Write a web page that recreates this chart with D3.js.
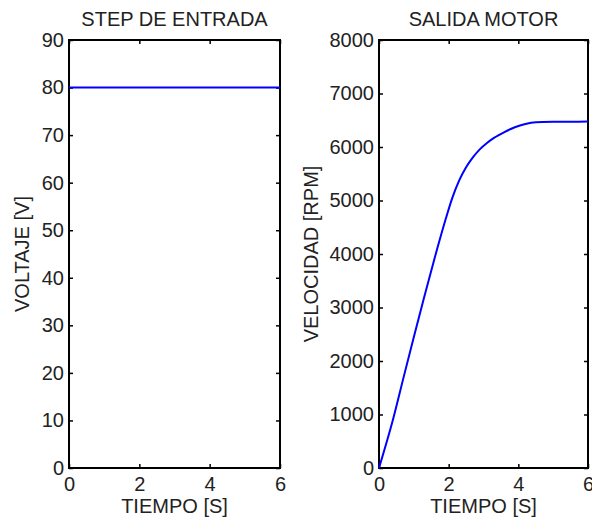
<!DOCTYPE html>
<html>
<head>
<meta charset="utf-8">
<script src="https://cdn.jsdelivr.net/npm/d3@7"></script>
<style>
  body { margin: 0; background: #fff; }
  text { font-family: "Liberation Sans", Arial, sans-serif; }
</style>
</head>
<body>
<div id="chart"></div>
<script>
// data
const stepTime = [0, 6];
const stepVolt = [80, 80];

const motorTime = [0, 0.4, 0.7, 1.0, 1.3, 1.6, 1.9, 2.1, 2.3, 2.5, 2.7, 2.9, 3.1, 3.3, 3.6, 3.9, 4.2, 4.5, 5.0, 5.5, 6.0];
const motorRpm  = [0, 900, 1680, 2450, 3200, 3930, 4620, 5040, 5370, 5620, 5810, 5960, 6075, 6170, 6280, 6370, 6430, 6462, 6470, 6472, 6475];

const timeTicks = [0, 2, 4, 6];
const voltTicks = d3.range(0, 91, 10);
const rpmTicks = d3.range(0, 8001, 1000);

const width = 592, height = 521;
const plotTop = 40, plotBottom = 468;
const fontSize = 20;

const svg = d3.select("#chart").append("svg")
  .attr("width", width)
  .attr("height", height);

// draws one subplot (box, inward ticks on all sides, line)
function panel(opts) {
  const x = d3.scaleLinear().domain([0, 6]).range([opts.left, opts.right]);
  const y = d3.scaleLinear().domain(opts.yDomain).range([plotBottom, plotTop]);
  const g = svg.append("g");

  const styleAxis = sel => {
    sel.select(".domain").remove();
    sel.selectAll(".tick line").attr("stroke", "#000").attr("stroke-width", 1.5);
    sel.selectAll("text").attr("font-size", fontSize).attr("fill", "#222")
      .attr("font-family", "'Liberation Sans', Arial, sans-serif");
  };

  g.append("g").attr("transform", `translate(0,${plotBottom})`)
    .call(d3.axisBottom(x).tickValues(timeTicks).tickSize(-4).tickPadding(9).tickFormat(d3.format("d")))
    .call(styleAxis);
  g.append("g").attr("transform", `translate(0,${plotTop})`)
    .call(d3.axisTop(x).tickValues(timeTicks).tickSize(-4).tickFormat(""))
    .call(styleAxis);
  g.append("g").attr("transform", `translate(${opts.left},0)`)
    .call(d3.axisLeft(y).tickValues(opts.yTicks).tickSize(-4).tickPadding(5).tickFormat(d3.format("d")))
    .call(styleAxis);
  g.append("g").attr("transform", `translate(${opts.right},0)`)
    .call(d3.axisRight(y).tickValues(opts.yTicks).tickSize(-4).tickFormat(""))
    .call(styleAxis);

  g.append("rect")
    .attr("x", opts.left).attr("y", plotTop)
    .attr("width", opts.right - opts.left).attr("height", plotBottom - plotTop)
    .attr("fill", "none").attr("stroke", "#000").attr("stroke-width", 2);

  const line = d3.line()
    .x((d, i) => x(opts.xs[i]))
    .y(d => y(d))
    .curve(d3.curveMonotoneX);

  g.append("path")
    .datum(opts.ys)
    .attr("d", line)
    .attr("fill", "none")
    .attr("stroke", "#0000ff")
    .attr("stroke-width", 2);

  // title
  g.append("text")
    .attr("x", (opts.left + opts.right) / 2).attr("y", 26)
    .attr("text-anchor", "middle").attr("font-size", fontSize).attr("fill", "#222")
    .text(opts.title);

  // x label
  g.append("text")
    .attr("x", (opts.left + opts.right) / 2).attr("y", 513)
    .attr("text-anchor", "middle").attr("font-size", fontSize).attr("fill", "#222")
    .text("TIEMPO [S]");

  // y label
  g.append("text")
    .attr("transform", `translate(${opts.yLabelX},${(plotTop + plotBottom) / 2}) rotate(-90)`)
    .attr("text-anchor", "middle").attr("font-size", fontSize).attr("fill", "#222")
    .text(opts.yLabel);
}

panel({
  left: 69, right: 280,
  yDomain: [0, 90], yTicks: voltTicks,
  xs: stepTime, ys: stepVolt,
  title: "STEP DE ENTRADA", yLabel: "VOLTAJE [V]", yLabelX: 29
});

panel({
  left: 379, right: 588,
  yDomain: [0, 8000], yTicks: rpmTicks,
  xs: motorTime, ys: motorRpm,
  title: "SALIDA MOTOR", yLabel: "VELOCIDAD [RPM]", yLabelX: 318
});
</script>
</body>
</html>
